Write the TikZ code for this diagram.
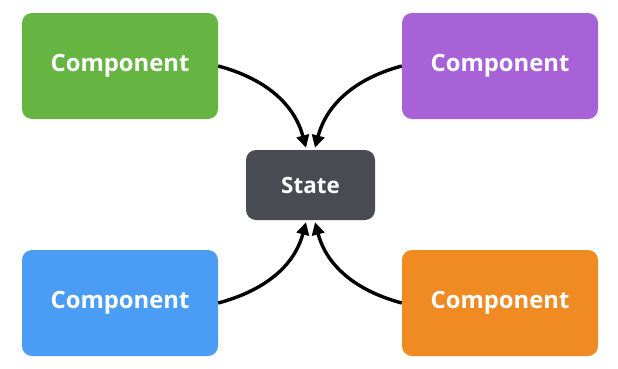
\documentclass[tikz,border=0pt]{standalone}
\usepackage{fontspec}
\setmainfont{Open Sans}
\usetikzlibrary{arrows.meta}

\definecolor{compgreen}{HTML}{66B543}
\definecolor{comppurple}{HTML}{A762D8}
\definecolor{compblue}{HTML}{4A9CF4}
\definecolor{comporange}{HTML}{F08A22}
\definecolor{stategray}{HTML}{484B52}

\begin{document}
\begin{tikzpicture}[x=1pt,y=1pt,
    comp/.style={rounded corners=10pt, minimum width=196pt, minimum height=106pt,
      inner sep=0pt, text=white, font=\bfseries\fontsize{23.8}{28}\selectfont},
    statebox/.style={comp, fill=stategray, minimum width=129pt, minimum height=70pt,
      font=\bfseries\fontsize{22.4}{26}\selectfont},
    link/.style={line width=3.4pt, -{Triangle[length=12.5pt,width=12.5pt]}}]
  \useasboundingbox (0,0) rectangle (618,368);

  % boxes
  \node[comp, fill=compgreen]  (green)  at (120,302) {Component};
  \node[comp, fill=comppurple] (purple) at (500,302) {Component};
  \node[statebox]              (state)  at (310.5,183) {State};
  \node[comp, fill=compblue]   (blue)   at (120,65)  {Component};
  \node[comp, fill=comporange] (orange) at (500,65)  {Component};

  % arrows into the state
  \draw[link] (green.east)  to[out=-15,in=105] ([xshift=-4.5pt,yshift=2pt]state.north);
  \draw[link] (purple.west) to[out=195,in=75]  ([xshift=4.5pt,yshift=2pt]state.north);
  \draw[link] (blue.east)   to[out=15,in=-105] ([xshift=-4.5pt,yshift=-2pt]state.south);
  \draw[link] (orange.west) to[out=165,in=-75] ([xshift=4.5pt,yshift=-2pt]state.south);
\end{tikzpicture}
\end{document}
